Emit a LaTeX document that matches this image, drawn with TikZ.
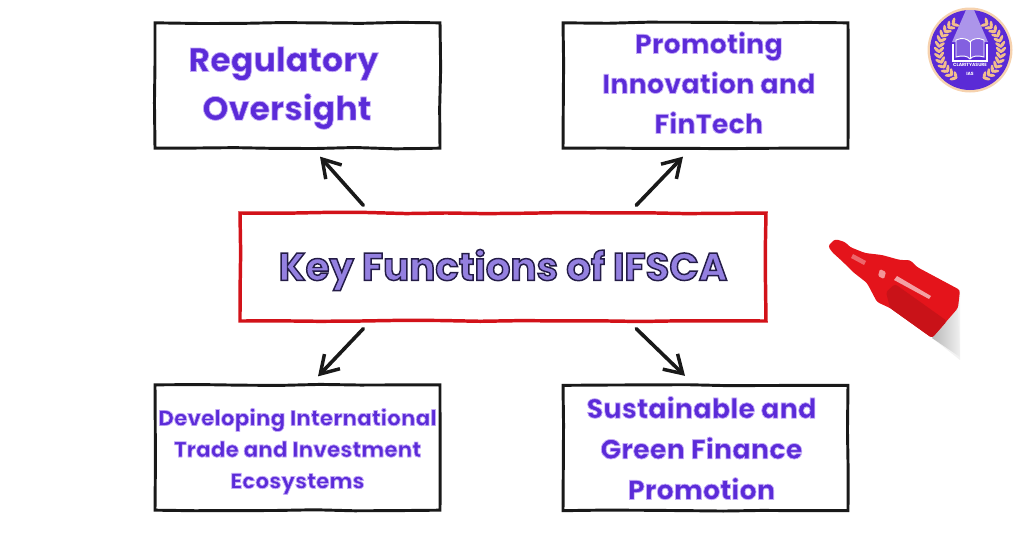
\documentclass[tikz,border=0pt]{standalone}
\usepackage{fontspec}
\setmainfont{Poppins}
\usetikzlibrary{arrows.meta,calc,decorations.pathmorphing,shapes.geometric}
\definecolor{violettext}{HTML}{5B2BD8}
\definecolor{markerred}{HTML}{E4141B}
\definecolor{logoviolet}{HTML}{5A2BD6}
\definecolor{wheat}{HTML}{F2BE8C}
\def\glowtext{\special{pdf:code 2 Tr 0.55 w 0.76 0.66 0.97 RG}}
\def\outlinetext{\special{pdf:code 2 Tr 1.1 w 0.14 0.11 0.28 RG 0.58 0.50 0.88 rg}}
\def\plaintext{\special{pdf:code 0 Tr 0 w}}
\tikzset{
	sketchline/.style={decorate, decoration={random steps, segment length=30pt, amplitude=0.5pt}},
	funcbox/.style={sketchline, draw=black!90, line width=2.2pt, minimum width=213.75pt, minimum height=94pt, inner sep=0pt, align=center, text=violettext},
	keybox/.style={sketchline, draw=markerred!92!black, line width=2.6pt, minimum width=394.5pt, minimum height=81pt, inner sep=0pt},
	sketcharrow/.style={-{Straight Barb[length=13pt,width=16pt,line width=2.6pt]}, line width=2.7pt, black!90, line cap=round},
	wheatleaf/.style={wheat, ellipse, fill, inner sep=0pt, minimum width=6pt, minimum height=2.4pt},
	logotext/.style={white, inner sep=0pt, font=\fontsize{3.4}{4}\selectfont\bfseries}
}

\begin{document}
\begin{tikzpicture}[x=0.75pt, y=-0.75pt]
	%%%%% START %%%%%
	\useasboundingbox (0, 0) rectangle (1024, 536);
	\pgfmathsetseed{7}

	\node[keybox] (keyfunc) at (503, 267) {};
	\node[inner sep=0pt, font=\fontsize{29}{34}\selectfont\bfseries] (keytext) at (503, 270) {\outlinetext Key Functions of IFSCA\plaintext};

	\node[funcbox, font=\fontsize{25}{36.5}\selectfont\bfseries] (oversight) at (297.5, 85.5) {\rule{0pt}{22.3pt}\glowtext\hspace*{-21pt}Regulatory\\\hspace*{-16pt}Oversight\plaintext};
	\node[funcbox, font=\fontsize{20.4}{30}\selectfont\bfseries] (fintech) at (705.5, 85.5) {\glowtext\hspace*{5pt}Promoting\\\hspace*{5pt}Innovation and\\\hspace*{5pt}FinTech\rule[-4.5pt]{0pt}{4.5pt}\plaintext};
	\node[funcbox, font=\fontsize{16.3}{23.6}\selectfont\bfseries] (trade) at (297.5, 447.5) {\rule{0pt}{18.7pt}\glowtext Developing International\\Trade and Investment\\Ecosystems\plaintext};
	\node[funcbox, font=\fontsize{20.5}{30.5}\selectfont\bfseries] (green) at (705.5, 448) {\glowtext\hspace*{-6pt}Sustainable and\\\hspace*{-6pt}Green Finance\\\hspace*{-6pt}Promotion\plaintext};

	\draw[sketcharrow] ($(keyfunc.north west)+(125, -6)$) -- ($(oversight.south)+(22.5, 7)$);
	\draw[sketcharrow] ($(keyfunc.north west)+(398, -6)$) -- ($(fintech.south)+(-22.5, 7)$);
	\draw[sketcharrow] ($(keyfunc.south west)+(125, 6)$) -- ($(trade.north)+(20.5, -7)$);
	\draw[sketcharrow] ($(keyfunc.south west)+(398, 6)$) -- ($(green.north)+(-20.5, -8)$);

	% marker
	\fill[black!5] (960, 290) -- (932, 338) -- (960, 360) -- cycle;
	\shade[left color=black!28, right color=black!6] (958, 308) -- (932, 338) -- (960, 357) -- cycle;
	\fill[markerred, rounded corners=2pt] (828, 246) -- (835, 239) -- (845, 242) -- (850, 247) -- (865, 253) -- (882, 255) -- (900, 260) -- (910, 260) -- (917, 267) -- (960, 290) -- (958, 308) -- (932, 338) -- (890, 308) -- (877, 302) -- (867, 283) -- (853, 272) -- (843, 262) -- (832, 252) -- cycle;
	\fill[markerred!88!black, rounded corners=2pt] (886, 292) -- (895, 284) -- (947, 321) -- (932, 338) -- (890, 308) -- cycle;
	\fill[white!60!markerred] (897, 276) -- (931, 296) -- (929, 299) -- (894, 280) -- cycle;
	\fill[white!35!markerred] (853, 254) -- (866, 261) -- (864, 265) -- (851, 258) -- cycle;
	\fill[white!55!markerred, rounded corners=1pt] (880, 269) -- (886, 272) -- (884, 279) -- (878, 276) -- cycle;

	% logo
	\fill[wheat!70] (970, 50) circle (42.5);
	\fill[logoviolet] (970, 50) circle (40);
	\fill[white, opacity=0.5] (966, 10) -- (974, 10) -- (988, 42) -- (952, 42) -- cycle;
	\foreach \a in {120,130,...,240} {
		\node[wheatleaf, rotate=\a+45] at ({970+29*cos(\a)}, {50-29*sin(\a)}) {};
		\node[wheatleaf, rotate=\a-45] at ({970+33*cos(\a)}, {50-33*sin(\a)}) {};
		\node[wheatleaf, rotate=-\a-45] at ({970-29*cos(\a)}, {50-29*sin(\a)}) {};
		\node[wheatleaf, rotate=-\a+45] at ({970-33*cos(\a)}, {50-33*sin(\a)}) {};
	}
	\draw[white, line width=0.7pt, fill=logoviolet!75!white] (956, 40) .. controls (962, 37) and (968, 39) .. (970, 42) .. controls (972, 39) and (978, 37) .. (984, 40) -- (984, 57) .. controls (978, 55) and (972, 56) .. (970, 59) .. controls (968, 56) and (962, 55) .. (956, 57) -- cycle;
	\draw[white, line width=0.7pt] (970, 42) -- (970, 59);
	\draw[white, line width=0.8pt] (953, 44) -- (953, 61) -- (987, 61) -- (987, 44);
	\node[logotext] (logoname) at (970, 65) {CLARITYASURE};
	\node[logotext] (logoias) at (970, 74) {IAS};
	%%%%% END %%%%%
\end{tikzpicture}
\end{document}
